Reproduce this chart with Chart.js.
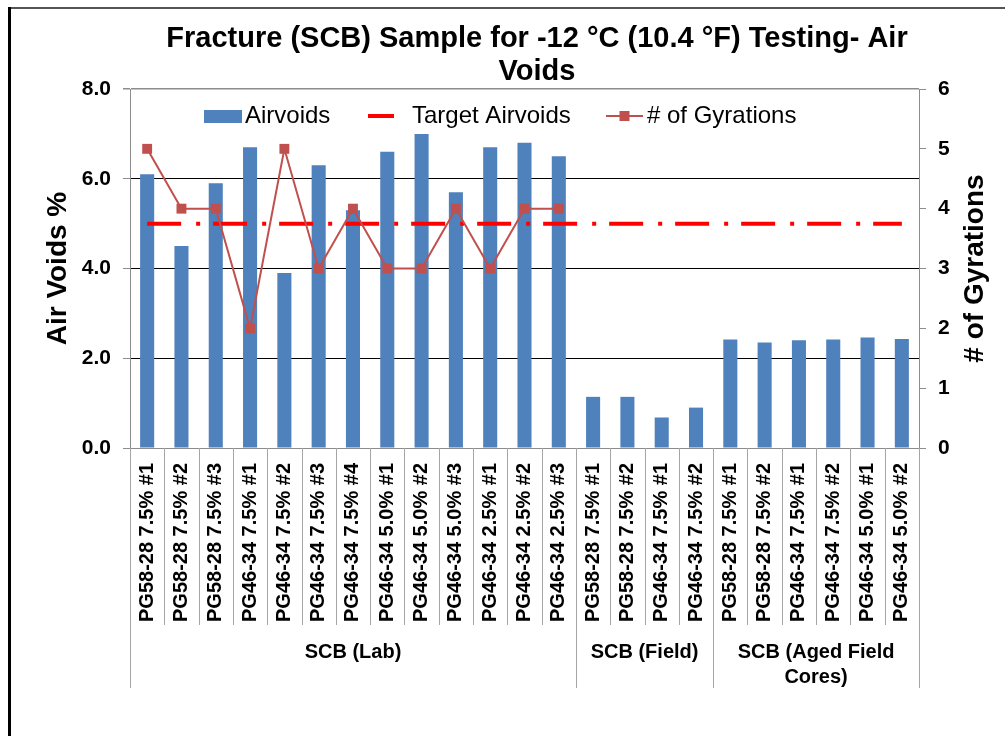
<!DOCTYPE html>
<html>
<head>
<meta charset="utf-8">
<script src="https://cdn.jsdelivr.net/npm/chart.js@4.4.1/dist/chart.umd.min.js"></script>
<style>
html,body{margin:0;padding:0;background:#fff;}
canvas{display:block;}
</style>
</head>
<body>
<canvas id="c" width="1005" height="736"></canvas>
<script>
// ---------- DATA ----------
const titleLines = ['Fracture (SCB) Sample for -12 °C (10.4 °F) Testing- Air', 'Voids'];
const leftAxisTitle = 'Air Voids %';
const rightAxisTitle = '# of Gyrations';

const categories = [
  'PG58-28 7.5% #1','PG58-28 7.5% #2','PG58-28 7.5% #3',
  'PG46-34 7.5% #1','PG46-34 7.5% #2','PG46-34 7.5% #3','PG46-34 7.5% #4',
  'PG46-34 5.0% #1','PG46-34 5.0% #2','PG46-34 5.0% #3',
  'PG46-34 2.5% #1','PG46-34 2.5% #2','PG46-34 2.5% #3',
  'PG58-28 7.5% #1','PG58-28 7.5% #2','PG46-34 7.5% #1','PG46-34 7.5% #2',
  'PG58-28 7.5% #1','PG58-28 7.5% #2','PG46-34 7.5% #1','PG46-34 7.5% #2',
  'PG46-34 5.0% #1','PG46-34 5.0% #2'
];
const groupLabels = [['SCB (Lab)'], ['SCB (Field)'], ['SCB (Aged Field', 'Cores)']];
const groupSizes = [13, 4, 6];

const airVoids = [6.1, 4.5, 5.9, 6.7, 3.9, 6.3, 5.3, 6.6, 7.0, 5.7, 6.7, 6.8, 6.5,
                  1.14, 1.14, 0.68, 0.90,
                  2.42, 2.35, 2.40, 2.42, 2.46, 2.43];
const targetAirVoids = [5, 5, 5, 5, 5, 5, 5, 5, 5, 5, 5, 5, 5,
                        5, 5, 5, 5,
                        5, 5, 5, 5, 5, 5];
const gyrations = [5, 4, 4, 2, 5, 3, 4, 3, 3, 4, 3, 4, 4,
                   null, null, null, null,
                   null, null, null, null, null, null];

const leftTicks = [0, 2, 4, 6, 8];
const rightTicks = [0, 1, 2, 3, 4, 5, 6];

// ---------- STYLE ----------
const FONT = "'Liberation Sans', Arial, sans-serif";
const BAR_COLOR = '#4F81BD';
const TARGET_COLOR = '#FF0000';
const GYR_COLOR = '#C0504D';
const AXIS_GRAY = '#8C8C8C';
const DIV_GRAY = '#A6A6A6';

const decor = {
  id: 'decor',
  beforeDraw(chart) {
    const ctx = chart.ctx;
    ctx.save();
    ctx.fillStyle = '#fff';
    ctx.fillRect(0, 0, chart.width, chart.height);
    ctx.fillStyle = '#555';
    ctx.fillRect(8, 7, chart.width - 8, 2);
    ctx.fillStyle = '#000';
    ctx.fillRect(8, 7, 3, chart.height - 7);
    ctx.restore();
  },
  afterDraw(chart) {
    const {ctx, chartArea: ca, scales} = chart;
    const x = scales.x;
    ctx.save();
    ctx.fillStyle = '#000';

    // Title
    ctx.font = `bold 29px ${FONT}`;
    ctx.textAlign = 'center';
    ctx.textBaseline = 'alphabetic';
    titleLines.forEach((t, i) => ctx.fillText(t, 537, 47 + i * 33));

    // Axis titles
    const midY = (ca.top + ca.bottom) / 2;
    ctx.font = `bold 28px ${FONT}`;
    ctx.textBaseline = 'middle';
    ctx.save();
    ctx.translate(58, midY);
    ctx.rotate(-Math.PI / 2);
    ctx.fillText(leftAxisTitle, 0, 0);
    ctx.restore();
    ctx.save();
    ctx.translate(975, midY);
    ctx.rotate(-Math.PI / 2);
    ctx.fillText(rightAxisTitle, 0, 0);
    ctx.restore();

    // Category dividers + group dividers
    const n = categories.length;
    const half = (x.getPixelForValue(1) - x.getPixelForValue(0)) / 2;
    const groupStarts = [];
    let acc = 0;
    groupSizes.forEach(s => { groupStarts.push(acc); acc += s; });
    groupStarts.push(n);
    ctx.strokeStyle = DIV_GRAY;
    ctx.lineWidth = 1;
    for (let i = 0; i <= n; i++) {
      const bx = i < n ? x.getPixelForValue(i) - half : x.getPixelForValue(n - 1) + half;
      const len = groupStarts.includes(i) ? 240 : 177;
      const px = Math.round(bx) + 0.5;
      ctx.beginPath();
      ctx.moveTo(px, ca.bottom);
      ctx.lineTo(px, ca.bottom + len);
      ctx.stroke();
    }

    // Group labels
    ctx.font = `bold 20px ${FONT}`;
    ctx.textAlign = 'center';
    ctx.textBaseline = 'middle';
    for (let g = 0; g < groupSizes.length; g++) {
      const s = groupStarts[g], e = groupStarts[g + 1] - 1;
      const cx = (x.getPixelForValue(s) + x.getPixelForValue(e)) / 2;
      groupLabels[g].forEach((line, k) => ctx.fillText(line, cx, ca.bottom + 204 + k * 25));
    }

    // Legend
    const ds = chart.data.datasets;
    const ly = 116;
    ctx.font = `24px ${FONT}`;
    ctx.textAlign = 'left';
    ctx.textBaseline = 'middle';
    ctx.fillStyle = ds[0].backgroundColor;
    ctx.fillRect(204, ly - 6, 38, 13);
    ctx.fillStyle = '#000';
    ctx.fillText(ds[0].label, 245, ly);
    ctx.strokeStyle = ds[1].borderColor;
    ctx.lineWidth = 4;
    ctx.beginPath(); ctx.moveTo(368, ly); ctx.lineTo(394, ly); ctx.stroke();
    ctx.fillText(ds[1].label, 412, ly);
    ctx.strokeStyle = ds[2].borderColor;
    ctx.lineWidth = 2;
    ctx.beginPath(); ctx.moveTo(606, ly); ctx.lineTo(643, ly); ctx.stroke();
    ctx.fillStyle = ds[2].pointBackgroundColor;
    ctx.fillRect(619.5, ly - 5, 10, 10);
    ctx.fillStyle = '#000';
    ctx.fillText(ds[2].label, 647, ly);

    ctx.restore();
  }
};

new Chart(document.getElementById('c'), {
  type: 'bar',
  data: {
    labels: categories,
    datasets: [
      {
        type: 'bar',
        label: 'Airvoids',
        data: airVoids,
        backgroundColor: BAR_COLOR,
        borderWidth: 0,
        categoryPercentage: 1.0,
        barPercentage: 0.41,
        yAxisID: 'y',
        order: 3
      },
      {
        type: 'line',
        label: 'Target Airvoids',
        data: targetAirVoids,
        borderColor: TARGET_COLOR,
        borderWidth: 4,
        borderDash: [34, 15, 4, 13],
        borderCapStyle: 'butt',
        pointRadius: 0,
        fill: false,
        tension: 0,
        yAxisID: 'y',
        order: 2
      },
      {
        type: 'line',
        label: '# of Gyrations',
        data: gyrations,
        borderColor: GYR_COLOR,
        borderWidth: 2,
        pointStyle: 'rect',
        pointRadius: 7,
        pointBackgroundColor: GYR_COLOR,
        pointBorderColor: GYR_COLOR,
        pointBorderWidth: 0,
        fill: false,
        tension: 0,
        spanGaps: false,
        yAxisID: 'y1',
        order: 1
      }
    ]
  },
  options: {
    responsive: false,
    animation: false,
    devicePixelRatio: 1,
    layout: { padding: { top: 89, left: 0, right: 0, bottom: 0 } },
    plugins: {
      legend: { display: false },
      title: { display: false },
      tooltip: { enabled: false }
    },
    scales: {
      x: {
        offset: true,
        grid: { display: false, drawTicks: false },
        border: { display: true, color: AXIS_GRAY, width: 1 },
        ticks: {
          autoSkip: false,
          minRotation: 90,
          maxRotation: 90,
          padding: 15,
          color: '#000',
          font: { family: FONT, size: 20, weight: 'bold' }
        },
        afterFit(scale) { scale.height = 288; }
      },
      y: {
        position: 'left',
        min: 0,
        max: 8,
        afterBuildTicks(scale) { scale.ticks = leftTicks.map(v => ({ value: v })); },
        grid: {
          color: c => (c.tick && (c.tick.value === 8 || c.tick.value === 0)) ? AXIS_GRAY : '#000000',
          lineWidth: c => (c.tick && c.tick.value === 8) ? 1.5 : 1,
          tickColor: AXIS_GRAY,
          tickLength: 7
        },
        border: { display: true, color: AXIS_GRAY, width: 1 },
        ticks: {
          padding: 12,
          color: '#000',
          font: { family: FONT, size: 21, weight: 'bold' },
          callback: v => Number(v).toFixed(1)
        },
        afterFit(scale) { scale.width = 130; }
      },
      y1: {
        position: 'right',
        min: 0,
        max: 6,
        afterBuildTicks(scale) { scale.ticks = rightTicks.map(v => ({ value: v })); },
        grid: { drawOnChartArea: false, tickColor: AXIS_GRAY, tickLength: 7 },
        border: { display: true, color: AXIS_GRAY, width: 1 },
        ticks: {
          padding: 12,
          color: '#000',
          font: { family: FONT, size: 21, weight: 'bold' },
          callback: v => String(v)
        },
        afterFit(scale) { scale.width = 86; }
      }
    }
  },
  plugins: [decor]
});
</script>
</body>
</html>
